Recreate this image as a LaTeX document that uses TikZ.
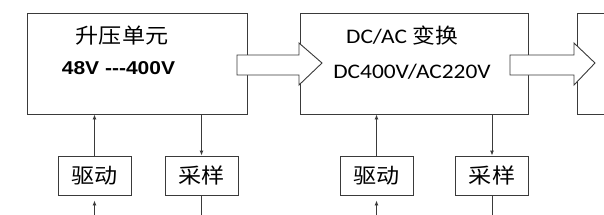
\documentclass[tikz,border=0pt]{standalone}
\usepackage{fontspec}
\setmainfont{Liberation Sans}
\newfontfamily\cjkf[FakeStretch=1.1]{Noto Sans CJK SC}
\newfontfamily\calf[FakeStretch=1.13]{Carlito}
\newfontfamily\arif[FakeStretch=1.13]{Liberation Sans}
\definecolor{bdInk}{HTML}{3A3A3A}
\usetikzlibrary{arrows.meta,positioning}

\begin{document}
\begin{tikzpicture}[
  x=1pt,y=-1pt,
  line width=0.9pt,
  bigbox/.style={draw=bdInk,minimum width=220pt,minimum height=101pt,inner sep=0pt},
  smallbox/.style={draw=bdInk,minimum width=73pt,minimum height=39pt,inner sep=0pt,
                   font=\cjkf\fontsize{21}{22}\selectfont},
  cjktxt/.style={inner sep=0pt,font=\cjkf\fontsize{21}{22}\selectfont},
  caltxt/.style={inner sep=0pt,font=\calf\fontsize{20.7}{22}\selectfont},
  blockarrow/.style={draw=bdInk,fill=white,line width=0.9pt,line join=miter},
  >={Latex[length=5pt,width=4pt]}
]
\useasboundingbox (0,0) rectangle (604,214);

% main stages
\node[bigbox] (boost) at (137,63.5) {};
\node[bigbox,minimum width=228pt] (inv) at (414,63.5) {};
\draw[draw=bdInk] (606,13) -- (577,13) coordinate (outTL) -- (577,114) -- (606,114);

\node[cjktxt] (boostT) at (122,35.5) {升压单元};
\node[inner sep=0pt,font=\arif\bfseries\fontsize{18.6}{20}\selectfont] (boostV) at (118.5,68.5) {48V ---400V};
\node[caltxt] (invT) at (402,36) {DC/AC \cjkf 变换};
\node[caltxt] (invV) at (412,72) {DC400V/AC220V};

% power flow
\draw[blockarrow] (237,55) -- (299,55) -- (299,43) -- (322,63) -- (299,85) -- (299,75) -- (237,75) -- cycle;
\draw[blockarrow] (510,55) -- (574,55) -- (574,43) -- (595,63) -- (574,85) -- (574,75) -- (510,75) -- cycle;

% drive / sampling
\node[smallbox] (drv1) at (94.5,175.5) {驱动};
\node[smallbox] (smp1) at (201.5,175.5) {采样};
\node[smallbox] (drv2) at (376.5,175.5) {驱动};
\node[smallbox] (smp2) at (492,175.5) {采样};

\draw[->,bdInk] (drv1.north) -- (drv1.north |- boost.south);
\draw[->,bdInk] (smp1.north |- boost.south) -- (smp1.north);
\draw[->,bdInk] (drv2.north) -- (drv2.north |- inv.south);
\draw[->,bdInk] (smp2.north |- inv.south) -- (smp2.north);

\coordinate (drv1in) at (94.5,215);
\coordinate (drv2in) at (376.5,215);
\coordinate (smp1out) at (201.5,215);
\coordinate (smp2out) at (492,215);
\draw[->,bdInk,shorten >=5pt] (drv1in) -- (drv1.south);
\draw[->,bdInk,shorten >=5pt] (drv2in) -- (drv2.south);
\draw[bdInk] (smp1.south) -- (smp1out);
\draw[bdInk] (smp2.south) -- (smp2out);
\end{tikzpicture}
\end{document}
